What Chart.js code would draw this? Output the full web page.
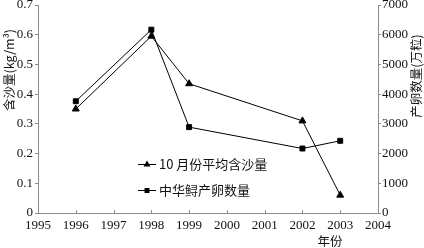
<!DOCTYPE html>
<html>
<head>
<meta charset="utf-8">
<script src="https://cdn.jsdelivr.net/npm/chart.js@4/dist/chart.umd.min.js"></script>
<style>
  html, body { margin: 0; padding: 0; background: #fff; }
  #wrap { width: 424px; height: 248px; }
</style>
</head>
<body>
<div id="wrap"><canvas id="c"></canvas></div>
<script>
const years = [1996, 1998, 1999, 2002, 2003];
const sediment = [0.35, 0.595, 0.435, 0.31, 0.06];     // kg/m3
const spawning = [3760, 6170, 2890, 2170, 2430];       // 万粒
const seriesNames = ["10 月份平均含沙量", "中华鲟产卵数量"];
const axisTitles = { left: "含沙量(kg/m³)", right: "产卵数量(万粒)", bottom: "年份" };

const serif = "'Liberation Serif', 'DejaVu Serif', serif";
const cjk = "'Noto Sans CJK SC', sans-serif";
const axisGray = "#8c8c8c";
const textColor = "#111";

// titles + legend drawn by hand, bottom ticks point inward
const extras = {
    id: "extras",
    afterDraw(chart) {
        const ctx = chart.ctx;
        const area = chart.chartArea;
        const x = chart.scales.x;
        ctx.save();
        ctx.strokeStyle = axisGray;
        ctx.lineWidth = 1;
        x.ticks.forEach(t => {
            const px = Math.round(x.getPixelForValue(t.value)) + 0.5;
            ctx.beginPath();
            ctx.moveTo(px, area.bottom);
            ctx.lineTo(px, area.bottom - 3);
            ctx.stroke();
        });

        ctx.fillStyle = textColor;
        ctx.font = "12.5px " + cjk;
        ctx.textAlign = "center";
        ctx.textBaseline = "middle";
        ctx.save();
        ctx.translate(9, 70);
        ctx.rotate(-Math.PI / 2);
        ctx.fillText(axisTitles.left, 0, 0);
        ctx.restore();
        ctx.save();
        ctx.translate(416, 76);
        ctx.rotate(-Math.PI / 2);
        ctx.fillText(axisTitles.right, 0, 0);
        ctx.restore();
        ctx.fillText(axisTitles.bottom, 330, 241);

        // legend
        const rows = [164, 190];
        chart.data.datasets.forEach((ds, i) => {
            const y = rows[i];
            ctx.strokeStyle = "#000";
            ctx.beginPath();
            ctx.moveTo(138, y + 0.5);
            ctx.lineTo(156, y + 0.5);
            ctx.stroke();
            ctx.fillStyle = "#000";
            Chart.helpers.drawPoint(ctx, { pointStyle: ds.pointStyle, radius: ds.pointRadius, rotation: 0 }, 147, y + 0.5);
            ctx.fillStyle = textColor;
            ctx.textAlign = "left";
            ctx.font = "13px " + cjk;
            ctx.fillText(ds.label, 159, y);
        });
        ctx.restore();
    }
};

const noPadY = w => s => { s.width = w; s.paddingTop = 0; s.paddingBottom = 0; };

new Chart(document.getElementById("c"), {
    type: "line",
    data: {
        datasets: [
            {
                label: seriesNames[0],
                data: years.map((yr, i) => ({ x: yr, y: sediment[i] })),
                yAxisID: "y",
                borderColor: "#000",
                backgroundColor: "#000",
                borderWidth: 1,
                pointStyle: "triangle",
                pointRadius: 4,
                tension: 0,
            },
            {
                label: seriesNames[1],
                data: years.map((yr, i) => ({ x: yr, y: spawning[i] })),
                yAxisID: "y1",
                borderColor: "#000",
                backgroundColor: "#000",
                borderWidth: 1,
                pointStyle: "rect",
                pointRadius: 3.5,
                tension: 0,
            },
        ],
    },
    options: {
        responsive: true,
        maintainAspectRatio: false,
        animation: false,
        layout: { padding: { top: 4, left: 0, right: 0, bottom: 0 } },
        plugins: { legend: { display: false }, tooltip: { enabled: false } },
        scales: {
            x: {
                type: "linear",
                min: 1995,
                max: 2004,
                ticks: {
                    stepSize: 1,
                    callback: v => String(v),
                    color: textColor,
                    font: { family: serif, size: 13 },
                    padding: 5,
                    maxRotation: 0,
                },
                grid: { drawOnChartArea: false, drawTicks: false },
                border: { color: axisGray },
                afterFit: s => { s.height = 35; s.paddingLeft = 0; s.paddingRight = 0; },
            },
            y: {
                position: "left",
                min: 0,
                max: 0.7,
                ticks: {
                    stepSize: 0.1,
                    callback: v => (v === 0 ? "0" : v.toFixed(1)),
                    color: textColor,
                    font: { family: serif, size: 13 },
                    padding: 2,
                },
                grid: { drawOnChartArea: false, tickLength: 3, color: axisGray },
                border: { color: axisGray },
                afterFit: noPadY(38),
            },
            y1: {
                position: "right",
                min: 0,
                max: 7000,
                ticks: {
                    stepSize: 1000,
                    color: textColor,
                    font: { family: serif, size: 13 },
                    padding: 1,
                    callback: v => String(v),
                },
                grid: { drawOnChartArea: false, tickLength: 3, color: axisGray },
                border: { color: axisGray },
                afterFit: noPadY(46),
            },
        },
    },
    plugins: [extras],
});
</script>
</body>
</html>
